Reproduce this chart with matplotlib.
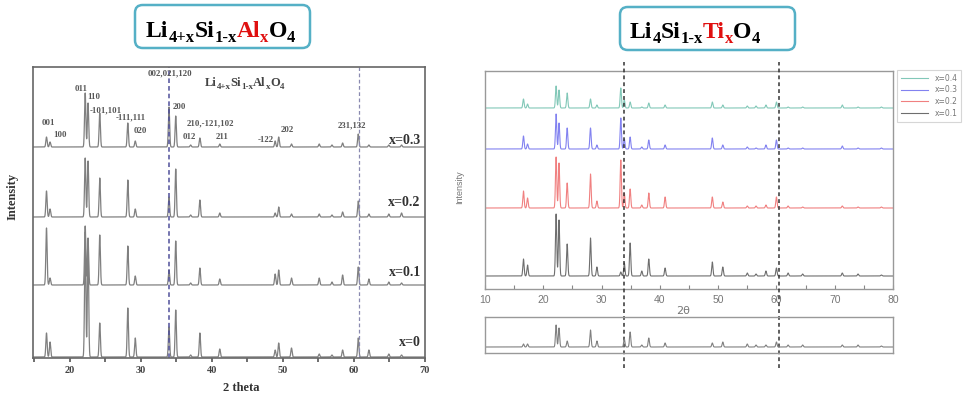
import numpy as np
import matplotlib.pyplot as plt
from matplotlib.patches import FancyBboxPatch

# ---- Li(4+x)Si(1-x)Al(x)O4 : peak positions (2 theta) and peak heights per sample
al_peaks = [16.7, 17.2, 22.15, 22.55, 24.2, 28.15, 29.2, 33.95, 34.9, 37.0, 38.3, 41.1,
            48.9, 49.4, 51.2, 55.1, 56.9, 58.4, 60.6, 62.1, 64.9, 66.7]
al_x00 = [24, 15, 125, 112, 34, 49, 19, 30, 47, 2, 24, 8, 7, 14, 9, 3, 2, 7, 19, 7, 3, 2]
al_x01 = [57, 7, 59, 47, 50, 39, 9, 15, 44, 2, 17, 6, 11, 15, 7, 7, 3, 10, 18, 6, 3, 2]
al_x02 = [26, 8, 59, 56, 39, 37, 8, 20, 48, 2, 17, 4, 4, 10, 3, 3, 2, 5, 16, 3, 3, 4]
al_x03 = [10, 5, 54, 44, 34, 24, 6, 40, 31, 2, 9, 3, 6, 10, 3, 3, 2, 4, 13, 2, 2, 2]
al_offsets = [1, 73, 141, 211]
al_names = ['x=0', 'x=0.1', 'x=0.2', 'x=0.3']
al_ticks = [20, 30, 40, 50, 60, 70]
al_lines = [33.9, 60.7]

# ---- Li4Si(1-x)Ti(x)O4
ti_peaks = [16.6, 17.3, 22.2, 22.7, 24.1, 28.1, 29.2, 33.3, 33.9, 34.9, 36.9, 38.1, 40.9,
            49.0, 50.8, 55.0, 56.5, 58.2, 60.0, 62.0, 64.5, 71.3, 74.0, 78.0]
ti_x01 = [17, 11, 62, 56, 32, 38, 9, 4, 13, 33, 5, 17, 8, 14, 9, 3, 2, 5, 8, 3, 2, 3, 2, 1]
ti_x02 = [17, 10, 51, 45, 25, 34, 7, 48, 15, 19, 3, 15, 11, 11, 6, 2, 2, 3, 11, 2, 1, 2, 1, 1]
ti_x03 = [13, 5, 35, 26, 21, 21, 4, 31, 10, 12, 2, 9, 4, 11, 4, 2, 1, 4, 9, 1, 1, 3, 1, 1]
ti_x04 = [9, 4, 22, 18, 15, 9, 3, 20, 8, 6, 1, 5, 3, 6, 3, 2, 2, 3, 6, 1, 1, 3, 1, 1]
ti_ref = [3, 3, 22, 19, 6, 17, 6, 0, 8, 15, 2, 9, 4, 4, 5, 3, 2, 2, 5, 2, 2, 2, 2, 1]
ti_offsets = [13, 81, 140, 181]
ti_names = ['x=0.1', 'x=0.2', 'x=0.3', 'x=0.4']
ti_colors = ['#6e6e6e', '#f08080', '#8282f0', '#82c8b8']
ti_ticks = [10, 20, 30, 40, 50, 60, 70, 80]
ti_lines = [33.8, 60.4]

W, H = 966, 399


def pattern(tt, peaks, heights, width):
    y = np.zeros_like(tt)
    for p, h in zip(peaks, heights):
        y += h * np.exp(-0.5 * ((tt - p) / width) ** 2)
    return y


def fx(px):
    return px / W


def fy(py):
    return 1 - py / H


fig = plt.figure(figsize=(W / 100, H / 100), dpi=100)
renderer = fig.canvas.get_renderer()


def formula(x, y, segs, size, sub_size, drop, color='black'):
    # segs: (text, is_subscript, red?) laid out left to right from pixel x, baseline y
    cx = x
    for text, sub, red in segs:
        t = fig.text(fx(cx), fy(y + (drop if sub else 0)), text,
                     fontsize=sub_size if sub else size,
                     color='#e01010' if red else color, ha='left', va='baseline',
                     fontfamily='Liberation Serif', fontweight='bold')
        cx += t.get_window_extent(renderer).width
    return cx


# ---------------- left panel
ax1 = fig.add_axes([fx(33), fy(358), 392 / W, 291 / H])
tt = np.arange(14.8, 70.005, 0.01)
for h, off in zip([al_x00, al_x01, al_x02, al_x03], al_offsets):
    ax1.plot(tt, off + pattern(tt, al_peaks, h, 0.09), color='#808080', lw=0.9)
ax1.axvline(al_lines[0], color='#50509a', ls=(0, (3, 2)), lw=1.1)
ax1.axvline(al_lines[1], color='#8a8ab0', ls=(0, (3, 2)), lw=0.9)
ax1.set_xlim(14.8, 70)
ax1.set_ylim(0, 291)
ax1.set_yticks([])
ax1.set_xticks(al_ticks)
ax1.set_xticklabels([str(t) for t in al_ticks], fontfamily='Liberation Serif',
                    fontweight='bold', fontsize=7.5, color='#444')
ax1.set_xticks(np.arange(15, 71, 5), minor=True)
ax1.tick_params(axis='x', which='both', direction='out', length=3, width=1.2,
                color='#555', pad=3)
for s in ax1.spines.values():
    s.set_color('#666')
    s.set_linewidth(1.2)

serif = dict(fontfamily='Liberation Serif', fontweight='bold', color='#555')
hkl = [('001', 16.0, 235), ('100', 17.7, 223), ('011', 20.7, 269), ('110', 22.4, 261),
       ('-101,101', 22.8, 248), ('-111,111', 26.5, 241), ('020', 28.9, 227),
       ('002,021,120', 31.0, 285), ('200', 34.4, 251), ('210,-121,102', 36.5, 235),
       ('012', 35.8, 221), ('211', 40.5, 221), ('-122', 46.4, 218), ('202', 49.7, 228),
       ('231,132', 57.7, 233)]
for lab, x, y in hkl:
    ax1.text(x, y, lab, fontsize=6.3, ha='left', va='center', **serif)
for name, y in zip(al_names, [16, 85, 155, 218]):
    ax1.text(69.4, y, name, fontsize=10, ha='right', va='center',
             fontfamily='Liberation Serif', fontweight='bold', color='#333')

formula(205, 86, [('Li', False, False), ('4+x', True, False), ('Si', False, False),
                  ('1-x', True, False), ('Al', False, False), ('x', True, False),
                  ('O', False, False), ('4', True, False)], 9, 6.5, 3, color='#444')

fig.text(fx(13), fy(196), 'Intensity', rotation=90, ha='center', va='center',
         fontsize=9, fontfamily='Liberation Serif', fontweight='bold', color='#333')
fig.text(fx(241), fy(388), '2 theta', ha='center', va='center',
         fontsize=9, fontfamily='Liberation Serif', fontweight='bold', color='#333')

# ---------------- right panel
ax2 = fig.add_axes([fx(485), fy(289), 408 / W, 218 / H])
tt2 = np.arange(10, 80.005, 0.01)
handles = []
for h, off, c, name in zip([ti_x01, ti_x02, ti_x03, ti_x04], ti_offsets, ti_colors, ti_names):
    ln, = ax2.plot(tt2, off + pattern(tt2, ti_peaks, h, 0.11), color=c, lw=0.8, label=name)
    handles.append(ln)
for v in ti_lines:
    ax2.axvline(v, ymin=-0.362, ymax=1.041, clip_on=False, color='#333333',
                ls=(0, (2.5, 2)), lw=1.1, zorder=5)
ax2.set_xlim(10, 80)
ax2.set_ylim(0, 218)
ax2.set_yticks([])
ax2.set_xticks(ti_ticks)
ax2.set_xticklabels([str(t) for t in ti_ticks], fontsize=7.5, color='#777',
                    fontfamily='Liberation Sans')
ax2.set_xticks(np.arange(15, 80, 10), minor=True)
ax2.tick_params(axis='x', which='both', direction='in', length=3, width=0.8,
                color='#888', pad=4)
for s in ax2.spines.values():
    s.set_color('#999')
    s.set_linewidth(1.0)

leg = ax2.legend(handles[::-1], ti_names[::-1], loc='upper left',
                 bbox_to_anchor=(fx(897), fy(70)), bbox_transform=fig.transFigure,
                 fontsize=5.5, frameon=True, fancybox=False, edgecolor='#cccccc',
                 handlelength=3.6, borderaxespad=0, labelcolor='#777',
                 labelspacing=0.35, borderpad=0.5)
leg.get_frame().set_linewidth(0.8)

fig.text(fx(460), fy(187), 'Intensity', rotation=90, ha='center', va='center',
         fontsize=6.5, color='#777', fontfamily='Liberation Sans')
fig.text(fx(683), fy(311), '2θ', ha='center', va='center',
         fontsize=8, color='#777', fontfamily='DejaVu Sans')

ax3 = fig.add_axes([fx(485), fy(353), 408 / W, 36 / H])
ax3.patch.set_visible(False)
ax3.plot(tt2, 6 + pattern(tt2, ti_peaks, ti_ref, 0.11), color='#808080', lw=0.8)
ax3.set_xlim(10, 80)
ax3.set_ylim(0, 36)
ax3.set_xticks([])
ax3.set_yticks([])
for s in ax3.spines.values():
    s.set_color('#999')
    s.set_linewidth(1.0)


# ---------------- title boxes
def title_box(box):
    x0, y0, x1, y1 = box
    patch = FancyBboxPatch((fx(x0), fy(y1)), (x1 - x0) / W, (y1 - y0) / H,
                           boxstyle='round,pad=0,rounding_size=0.008',
                           mutation_aspect=W / H, transform=fig.transFigure,
                           facecolor='white', edgecolor='#55b0c6', linewidth=1.8)
    fig.add_artist(patch)


title_box((135, 5, 310, 48))
formula(146, 37, [('Li', False, False), ('4+x', True, False), ('Si', False, False),
                  ('1-x', True, False), ('Al', False, True), ('x', True, True),
                  ('O', False, False), ('4', True, False)], 17, 12, 5)
title_box((620, 7, 795, 50))
formula(630, 38, [('Li', False, False), ('4', True, False), ('Si', False, False),
                  ('1-x', True, False), ('Ti', False, True), ('x', True, True),
                  ('O', False, False), ('4', True, False)], 17, 12, 5)

fig.savefig('out.png', dpi=100)
